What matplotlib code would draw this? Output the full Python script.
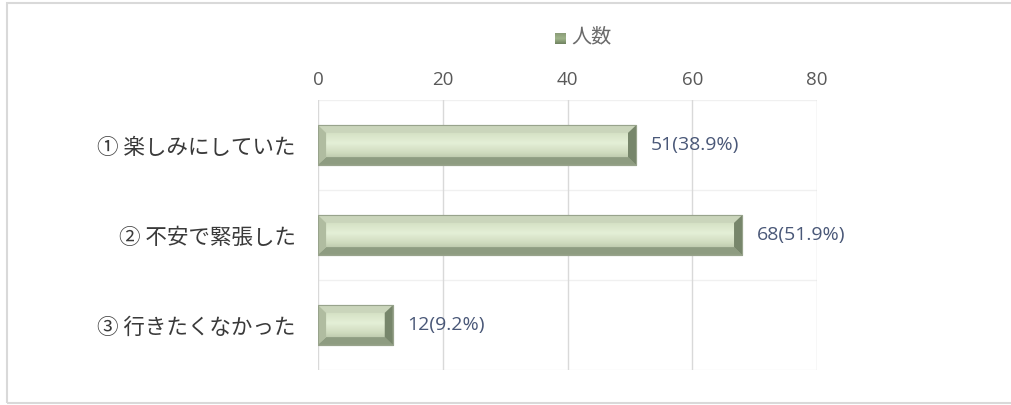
import matplotlib
matplotlib.use("Agg")
import matplotlib.pyplot as plt
import numpy as np
from matplotlib.patches import Polygon, Rectangle
from matplotlib.colors import LinearSegmentedColormap

categories = ["① 楽しみにしていた", "② 不安で緊張した", "③ 行きたくなかった"]
values = [51, 68, 12]
percents = ["38.9%", "51.9%", "9.2%"]
xticks = [0, 20, 40, 60, 80]
legend_label = "人数"

plt.rcParams['font.family'] = ['Noto Sans CJK JP', 'DejaVu Sans']

fig = plt.figure(figsize=(10.11, 4.05), dpi=100)
ax = fig.add_axes([318/1011, 1-370/405, (817-318)/1011, 270/405])

# outer frame
fig.patches.append(Rectangle((7/1011, 2/405), 1.2, 400/405, transform=fig.transFigure,
                             fill=False, edgecolor='#d9d9d9', linewidth=1.5))

face_cmap = LinearSegmentedColormap.from_list(
    'face', [(0.0, '#c6d2b5'), (0.25, '#d9e5c9'), (0.45, '#e4efd7'),
             (0.7, '#cfdbbe'), (1.0, '#a4b095')])
leg_cmap = LinearSegmentedColormap.from_list(
    'leg', [(0.0, '#8a9c78'), (0.5, '#9fb48a'), (1.0, '#6f8260')])

h = 0.44
bx = 1.3
by = 0.085
ypos = np.arange(len(categories))
bars = ax.barh(ypos, values, height=h, color='#d5e2c2', edgecolor='#9aa58d',
               linewidth=0.8, zorder=3)
grad = np.linspace(0, 1, 64).reshape(-1, 1)
for bar, v, y in zip(bars, values, ypos):
    x0, x1 = 0, v
    yt, yb = y - h/2, y + h/2
    im = ax.imshow(grad, cmap=face_cmap, aspect='auto', extent=[x0, x1, yb, yt],
                   origin='upper', zorder=3.5, interpolation='bilinear')
    im.set_clip_path(bar)
    polys = [
        ([(x0, yt), (x1, yt), (x1-bx, yt+by), (x0+bx, yt+by)], '#cad5bb'),
        ([(x0, yb), (x1, yb), (x1-bx, yb-by), (x0+bx, yb-by)], '#8e9c81'),
        ([(x0, yt), (x0+bx, yt+by), (x0+bx, yb-by), (x0, yb)], '#b0bca0'),
        ([(x1, yt), (x1-bx, yt+by), (x1-bx, yb-by), (x1, yb)], '#77866b'),
    ]
    for pts, c in polys:
        ax.add_patch(Polygon(pts, closed=True, facecolor=c, edgecolor='none', zorder=4))
    ax.add_patch(Rectangle((x0, yt), x1-x0, h, fill=False, edgecolor='#98a38c',
                           linewidth=0.8, zorder=5))
    ax.text(v + 2.3, y, f"{v}({percents[y]})",
            va='center', ha='left', fontsize=14, color='#4a5878',
            family=['Open Sans', 'DejaVu Sans'], zorder=6)

ax.set_xlim(0, 80)
ax.set_ylim(2.5, -0.5)
ax.set_xticks(xticks)
ax.xaxis.tick_top()
ax.tick_params(axis='x', length=0, pad=8, labelsize=13.5, labelcolor='#595959')
for lab in ax.get_xticklabels():
    lab.set_family(['Open Sans', 'DejaVu Sans'])
ax.set_yticks(ypos)
ax.set_yticklabels(categories, fontsize=15.5, color='#3a3a3a')
ax.tick_params(axis='y', length=0, pad=16)
for s in ax.spines.values():
    s.set_visible(False)
ax.xaxis.grid(True, color='#d9d9d9', linewidth=1.0, zorder=0)
ax.set_axisbelow(True)
for yy in [-0.5, 0.5, 1.5, 2.5]:
    ax.axhline(yy, color='#f0f0f0', linewidth=1.0, zorder=0.5)

# legend
sq = fig.add_axes([555/1011, 1-44/405, 11/1011, 11/405])
sq.imshow(grad, cmap=leg_cmap, aspect='auto', extent=[0, 1, 0, 1])
sq.set_axis_off()
fig.text(571/1011, 1-37/405, legend_label, fontsize=14.5, color='#6b6b6b', va='center', ha='left')

fig.savefig("out.png", dpi=100, facecolor='white')
